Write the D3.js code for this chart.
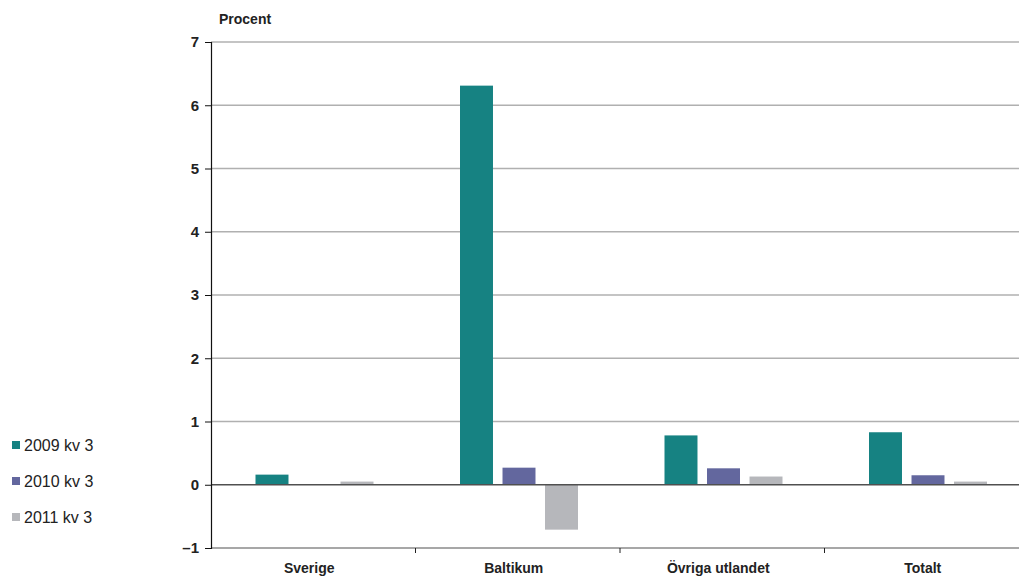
<!DOCTYPE html>
<html>
<head>
<meta charset="utf-8">
<script src="https://cdn.jsdelivr.net/npm/d3@7"></script>
<style>
  body { margin: 0; background: #fff; }
  svg { display: block; font-family: "Liberation Sans", "DejaVu Sans", sans-serif; }
</style>
</head>
<body>
<svg id="chart" width="1019" height="576"></svg>
<script>
const categories = ["Sverige", "Baltikum", "Övriga utlandet", "Totalt"];
const seriesNames = ["2009 kv 3", "2010 kv 3", "2011 kv 3"];
const values2009 = [0.16, 6.31, 0.78, 0.83];
const values2010 = [0.0, 0.27, 0.26, 0.15];
const values2011 = [0.05, -0.71, 0.13, 0.05];
const yTicks = [-1, 0, 1, 2, 3, 4, 5, 6, 7];
const colors = ["#168282", "#63679e", "#b6b7bb"];

const series = [values2009, values2010, values2011];

const svg = d3.select("#chart");
const plotLeft = 211, plotRight = 1029, plotTop = 42, plotBottom = 548;

const y = d3.scaleLinear().domain([-1, 7]).range([plotBottom, plotTop]);
const x = d3.scaleBand().domain(categories).range([plotLeft, plotRight]);
const xi = d3.scaleBand().domain(d3.range(series.length))
  .range([44.5, 162.5]).paddingInner(0.224);

// horizontal gridlines
svg.append("g").selectAll("line").data(yTicks.filter(t => t !== 0 && t !== -1))
  .join("line")
  .attr("x1", plotLeft).attr("x2", plotRight)
  .attr("y1", d => y(d)).attr("y2", d => y(d))
  .attr("stroke", "#b0b0b0").attr("stroke-width", 1.5);

// bars
const g = svg.append("g");
series.forEach((vals, si) => {
  g.append("g").selectAll("rect").data(vals).join("rect")
    .attr("x", (d, i) => x(categories[i]) + xi(si))
    .attr("width", xi.bandwidth())
    .attr("y", d => y(Math.max(0, d)))
    .attr("height", d => Math.abs(y(d) - y(0)))
    .attr("fill", colors[si]);
});

// zero line
svg.append("line").attr("x1", plotLeft).attr("x2", plotRight)
  .attr("y1", y(0)).attr("y2", y(0))
  .attr("stroke", "#505050").attr("stroke-width", 1.5);

// bottom axis
const xAxis = svg.append("g");
xAxis.append("line").attr("x1", plotLeft).attr("x2", plotRight)
  .attr("y1", plotBottom).attr("y2", plotBottom)
  .attr("stroke", "#8a8a8a").attr("stroke-width", 1.5);
xAxis.selectAll("line.tick").data(categories.slice(1)).join("line")
  .attr("class", "tick")
  .attr("x1", d => x(d)).attr("x2", d => x(d))
  .attr("y1", plotBottom).attr("y2", plotBottom + 5)
  .attr("stroke", "#222").attr("stroke-width", 1);
xAxis.selectAll("text").data(categories).join("text")
  .attr("x", d => x(d) + x.bandwidth() / 2 - 4)
  .attr("y", 573)
  .attr("text-anchor", "middle")
  .attr("font-size", 14).attr("font-weight", "bold").attr("fill", "#222")
  .text(d => d);

// left axis
const yAxis = svg.append("g").attr("transform", `translate(${plotLeft},0)`)
  .call(d3.axisLeft(y).tickValues(yTicks).tickSize(6).tickPadding(6).tickFormat(d => d < 0 ? "\u2013" + Math.abs(d) : d));
yAxis.select(".domain").attr("stroke", "#111").attr("stroke-width", 1.2);
yAxis.selectAll(".tick line").attr("stroke", "#111");
yAxis.selectAll(".tick text").attr("font-size", 15).attr("font-weight", "bold")
  .attr("fill", "#222").attr("font-family", "'Liberation Sans', sans-serif");

svg.append("text").attr("x", 219).attr("y", 24)
  .attr("font-size", 14).attr("font-weight", "bold").attr("fill", "#222")
  .text("Procent");

// legend
const legend = svg.append("g");
seriesNames.forEach((name, i) => {
  const ly = 445 + i * 36;
  legend.append("rect").attr("x", 12).attr("y", ly - 4).attr("width", 8).attr("height", 8)
    .attr("fill", colors[i]);
  legend.append("text").attr("x", 24).attr("y", ly + 6)
    .attr("font-size", 16).attr("fill", "#222").text(name);
});
</script>
</body>
</html>
